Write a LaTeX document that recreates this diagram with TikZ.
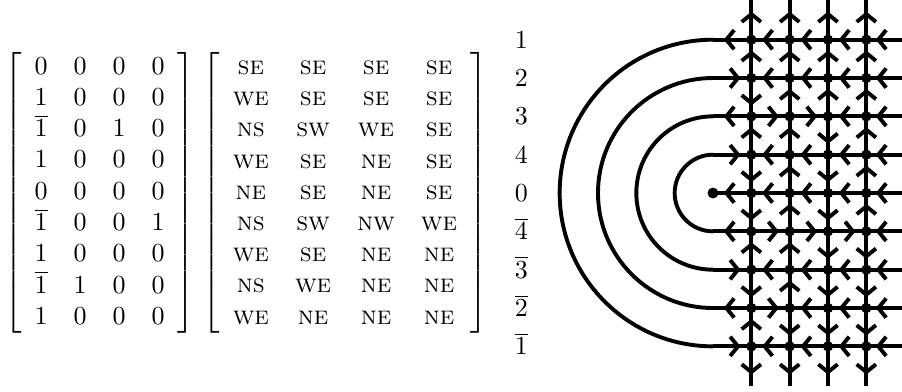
\documentclass[tikz,border=0pt]{standalone}
\usetikzlibrary{arrows.meta,decorations.markings}
\tikzset{
    >={Straight Barb[length=3pt,width=7.4pt]},
    ice/.style={
        wire/.append style={line width=1.5pt},
        flow/.append style={wire,postaction={decorate},decoration={markings,mark=at position 0.5 with {\arrow[xshift=3.2pt]{>}}}},
        vtx/.append style={circle,fill,inner sep=0pt,minimum size=4pt},
        sink/.append style={circle,fill,inner sep=0pt,minimum size=4.2pt},
        rowlab/.append style={anchor=base,yshift=-3.3pt}
    }
}
\newcommand{\vx}[1]{\mbox{\textsc{#1}}}
\newcommand{\nb}[1]{\overline{#1}}

\begin{document}
\begin{tikzpicture}[ice,x=0.518cm,y=0.518cm]
    \useasboundingbox (-18.6,-5.17) rectangle (4.93,5.035);
    \node (asm) at (-16,0) {$\left[\begin{array}{cccc}
        0&0&0&0\\ 1&0&0&0\\ \nb{1}&0&1&0\\ 1&0&0&0\\ 0&0&0&0\\
        \nb{1}&0&0&1\\ 1&0&0&0\\ \nb{1}&1&0&0\\ 1&0&0&0
    \end{array}\right]$};
    \node (dirs) at (-9.6,0) {$\left[\begin{array}{cccc}
        \vx{se}&\vx{se}&\vx{se}&\vx{se}\\ \vx{we}&\vx{se}&\vx{se}&\vx{se}\\
        \vx{ns}&\vx{sw}&\vx{we}&\vx{se}\\ \vx{we}&\vx{se}&\vx{ne}&\vx{se}\\
        \vx{ne}&\vx{se}&\vx{ne}&\vx{se}\\ \vx{ns}&\vx{sw}&\vx{nw}&\vx{we}\\
        \vx{we}&\vx{se}&\vx{ne}&\vx{ne}\\ \vx{ns}&\vx{we}&\vx{ne}&\vx{ne}\\
        \vx{we}&\vx{ne}&\vx{ne}&\vx{ne}
    \end{array}\right]$};
    \foreach \r/\t in {1/1,2/2,3/3,4/4,5/0,6/\nb{4},7/\nb{3},8/\nb{2},9/\nb{1}}
        \node[rowlab] (lab\r) at (-5,5-\r) {$\t$};
    % grid points and loose ends
    \foreach \r in {1,...,9} {
        \coordinate (\r-0) at (0,5-\r);
        \coordinate (\r-5) at (4.93,5-\r);
        \foreach \c in {1,...,4}
            \coordinate (\r-\c) at (\c,5-\r);
    }
    \foreach \c in {1,...,4} {
        \coordinate (0-\c) at (\c,5.03);
        \coordinate (10-\c) at (\c,-5.04);
    }
    % horizontal edges, 1 = right
    \foreach \r/\dirs in {1/{0,0,0,0,0},2/{1,0,0,0,0},3/{0,1,1,0,0},4/{1,0,0,0,0},5/{0,0,0,0,0},
                          6/{0,1,1,1,0},7/{1,0,0,0,0},8/{0,1,0,0,0},9/{1,0,0,0,0}}
        \foreach \d [count=\k from 0] in \dirs {
            \pgfmathtruncatemacro\kk{\k+1}
            \ifnum\d=1 \draw[flow] (\r-\k) -- (\r-\kk); \else \draw[flow] (\r-\kk) -- (\r-\k); \fi
        }
    % vertical edges, 1 = up
    \foreach \c/\dirs in {1/{1,1,0,1,0,0,1,0,1,0},2/{1,1,1,1,1,1,1,1,0,0},
                          3/{1,1,1,0,0,0,0,0,0,0},4/{1,1,1,1,1,1,0,0,0,0}}
        \foreach \d [count=\k from 0] in \dirs {
            \pgfmathtruncatemacro\kk{\k+1}
            \ifnum\d=1 \draw[flow] (\kk-\c) -- (\k-\c); \else \draw[flow] (\k-\c) -- (\kk-\c); \fi
        }
    % nested turns on the left
    \foreach \r in {1,...,4}
        \draw[wire] (\r-0) arc[start angle=90,end angle=270,radius=5-\r];
    % vertices
    \foreach \r in {1,...,9}
        \foreach \c in {1,...,4}
            \node[vtx] (dot\r\c) at (\r-\c) {};
    \node[sink] (sink) at (5-0) {};
\end{tikzpicture}
\end{document}
